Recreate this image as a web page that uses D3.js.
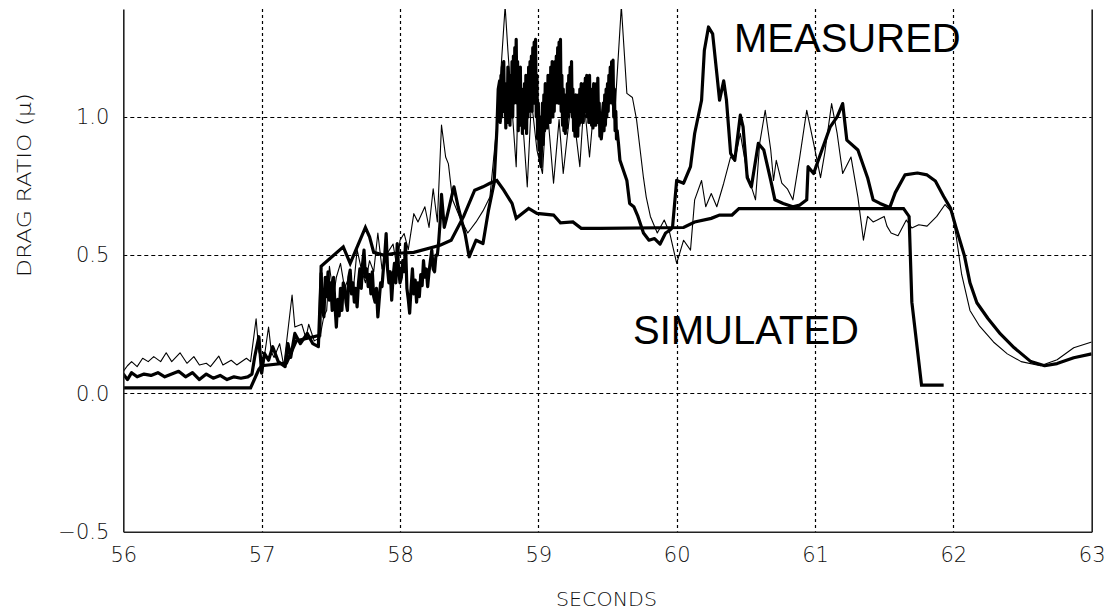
<!DOCTYPE html>
<html>
<head>
<meta charset="utf-8">
<script src="https://cdn.jsdelivr.net/npm/d3@7"></script>
<style>
  html, body { margin: 0; padding: 0; background: #fff; }
  svg { display: block; }
  .tick text { font-family: "DejaVu Sans", sans-serif; font-weight: 200; font-size: 21px; fill: #111; }
</style>
</head>
<body>
<svg id="chart" width="1110" height="613"></svg>
<script>
// ---- data (seconds, drag ratio) ----
const xTicks = [56, 57, 58, 59, 60, 61, 62, 63];
const yTicks = [-0.5, 0.0, 0.5, 1.0];
const xGrid = [57, 58, 59, 60, 61, 62];
const yGrid = [0.0, 0.5, 1.0];
const xLabel = "SECONDS";
const yLabel = "DRAG RATIO  (\u03BC)";
const labelMeasured = "MEASURED";
const labelSimulated = "SIMULATED";

const simulated = [
  [56.0,0.02],[56.92,0.02],[56.98,0.087],[57.0,0.10],[57.18,0.11],[57.25,0.19],[57.42,0.21],
  [57.43,0.46],[57.59,0.53],[57.64,0.47],[57.75,0.60],[57.78,0.566],[57.81,0.51],[57.88,0.50],
  [57.95,0.506],[58.1,0.51],[58.29,0.536],[58.37,0.554],[58.46,0.64],[58.54,0.735],[58.6,0.747],
  [58.65,0.76],[58.7,0.77],[58.75,0.735],[58.81,0.687],[58.84,0.633],[58.93,0.669],[58.99,0.651],
  [59.11,0.645],[59.16,0.617],[59.25,0.62],[59.31,0.597],[59.45,0.597],[60.05,0.60],[60.13,0.62],
  [60.25,0.633],[60.31,0.645],[60.4,0.645],[60.45,0.668],[61.64,0.668],[61.68,0.64],[61.7,0.33],
  [61.77,0.03],[61.93,0.03]
];

const measuredThick = [
  [56.0,0.07],[56.03,0.05],[56.06,0.075],[56.1,0.06],[56.15,0.07],[56.2,0.065],[56.25,0.075],
  [56.3,0.06],[56.35,0.07],[56.4,0.08],[56.45,0.06],[56.5,0.075],[56.55,0.05],[56.6,0.07],
  [56.65,0.055],[56.7,0.065],[56.75,0.05],[56.8,0.06],[56.85,0.055],[56.9,0.06],[56.93,0.07],
  [56.95,0.133],[56.98,0.205],[57.0,0.073],[57.02,0.145],[57.05,0.12],[57.08,0.169],[57.12,0.115],
  [57.17,0.097],[57.19,0.18],[57.21,0.13],[57.24,0.217],[57.28,0.18],[57.33,0.217],[57.37,0.18],
  [57.41,0.169],
  [57.43,0.434],[57.44,0.30],[57.45,0.277],[57.46,0.42],[57.47,0.35],[57.48,0.44],[57.49,0.337],
  [57.50,0.40],[57.51,0.30],[57.52,0.42],[57.53,0.32],[57.54,0.24],[57.55,0.34],[57.56,0.28],
  [57.57,0.38],[57.58,0.30],[57.59,0.40],[57.60,0.386],[57.61,0.33],[57.62,0.30],[57.63,0.42],
  [57.64,0.446],[57.65,0.36],[57.66,0.40],[57.67,0.33],[57.68,0.38],[57.69,0.313],[57.70,0.40],
  [57.71,0.45],[57.72,0.38],[57.73,0.47],[57.74,0.518],[57.75,0.42],[57.76,0.45],[57.77,0.386],
  [57.78,0.43],[57.79,0.36],[57.80,0.44],[57.81,0.35],[57.82,0.33],[57.83,0.38],[57.84,0.277],
  [57.85,0.34],[57.86,0.40],[57.87,0.386],[57.88,0.45],[57.89,0.50],[57.90,0.578],[57.91,0.45],
  [57.92,0.40],[57.93,0.44],[57.94,0.337],[57.95,0.42],[57.96,0.47],[57.97,0.40],[57.98,0.542],
  [57.99,0.45],[58.00,0.40],[58.01,0.42],[58.02,0.48],[58.03,0.44],[58.04,0.542],[58.05,0.38],
  [58.06,0.34],[58.07,0.29],[58.08,0.38],[58.09,0.45],[58.10,0.36],[58.11,0.41],[58.12,0.33],
  [58.13,0.40],[58.14,0.35],[58.15,0.43],[58.16,0.39],[58.17,0.48],[58.18,0.42],[58.19,0.45],
  [58.20,0.386],[58.21,0.44],[58.22,0.48],[58.23,0.518],[58.24,0.45],[58.25,0.44],[58.26,0.50],
  [58.27,0.5],[58.28,0.55],[58.29,0.62],[58.30,0.72],
  [58.32,0.60],[58.34,0.64],[58.39,0.747],[58.42,0.675],
  [58.47,0.578],[58.5,0.494],[58.55,0.554],[58.6,0.542],[58.64,0.663],[58.68,0.76],
  [58.70,0.95],[58.71,1.10],[58.72,1.13],[58.725,0.98],[58.73,1.15],[58.735,1.0],[58.74,1.18],
  [58.75,1.20],[58.755,1.02],[58.76,1.12],[58.765,0.96],[58.77,1.10],[58.775,0.98],[58.78,1.18],
  [58.785,1.00],[58.79,1.12],[58.795,0.97],[58.80,1.15],[58.805,1.02],[58.81,1.20],[58.815,1.0],
  [58.82,1.22],[58.825,1.05],[58.83,1.25],[58.835,1.08],[58.84,1.28],[58.845,1.05],[58.85,1.20],
  [58.855,0.95],[58.86,1.15],[58.865,1.0],[58.87,1.18],[58.875,0.97],[58.88,1.10],[58.885,0.94],
  [58.89,1.08],[58.895,0.96],[58.90,1.12],[58.905,0.98],[58.91,1.15],[58.915,0.94],[58.92,1.10],
  [58.925,1.0],[58.93,1.18],[58.935,1.02],[58.94,1.20],[58.945,1.05],[58.95,1.22],[58.955,1.02],
  [58.96,1.25],[58.965,1.05],[58.97,1.27],[58.975,1.10],[58.98,1.28],[58.985,1.0],[58.99,1.15],
  [58.995,0.92],[59.00,1.05],[59.005,0.88],[59.01,1.0],[59.015,0.84],[59.02,0.82],[59.025,0.95],
  [59.03,1.05],[59.035,0.90],[59.04,1.08],[59.045,0.95],[59.05,1.12],[59.055,0.97],[59.06,1.10],
  [59.065,0.96],[59.07,1.15],[59.075,1.0],[59.08,1.12],[59.085,0.98],[59.09,1.18],[59.095,1.02],
  [59.10,1.20],[59.105,1.0],[59.11,1.15],[59.115,1.02],[59.12,1.20],[59.125,1.05],[59.13,1.22],
  [59.135,1.08],[59.14,1.25],[59.145,1.05],[59.15,1.27],[59.155,1.10],[59.16,1.28],[59.165,1.02],
  [59.17,1.15],[59.175,0.97],[59.18,1.10],[59.185,0.95],[59.19,1.08],[59.195,0.94],[59.20,1.05],
  [59.205,0.96],[59.21,1.12],[59.215,1.0],[59.22,1.15],[59.225,1.02],[59.23,1.18],[59.235,1.05],
  [59.24,1.20],[59.245,1.0],[59.25,1.10],[59.255,0.95],[59.26,1.05],[59.265,0.93],[59.27,1.08],
  [59.275,0.94],[59.28,1.02],[59.285,0.93],[59.29,1.08],[59.295,0.97],[59.30,1.10],[59.305,0.98],
  [59.31,1.12],[59.315,1.0],[59.32,1.10],[59.325,0.98],[59.33,1.12],[59.335,1.02],[59.34,1.14],
  [59.345,1.03],[59.35,1.15],[59.355,1.0],[59.36,1.12],[59.365,0.98],[59.37,1.15],[59.375,1.0],
  [59.38,1.10],[59.385,0.97],[59.39,1.08],[59.395,0.96],[59.40,1.12],[59.405,0.98],[59.41,1.10],
  [59.415,0.97],[59.42,1.12],[59.425,1.0],[59.43,1.14],[59.435,0.98],[59.44,1.05],[59.445,0.93],
  [59.45,1.0],[59.455,0.92],[59.46,0.95],[59.465,1.02],[59.47,1.05],[59.475,0.95],[59.48,1.08],
  [59.485,0.97],[59.49,1.10],[59.495,1.0],[59.50,1.12],[59.505,1.02],[59.51,1.15],[59.515,1.05],
  [59.52,1.18],[59.525,1.08],[59.53,1.20],[59.535,1.05],[59.54,1.205],[59.545,1.0],[59.55,1.10],
  [59.555,0.95],[59.56,1.02],[59.565,0.92],[59.57,0.95],[59.58,0.90],[59.59,0.843],
  [59.64,0.77],[59.66,0.687],[59.69,0.675],[59.72,0.64],[59.76,0.58],
  [59.8,0.554],[59.84,0.56],[59.88,0.54],[59.92,0.58],[59.95,0.59],[59.97,0.60],[60.0,0.77],
  [60.05,0.76],[60.1,0.82],[60.13,0.94],[60.18,1.06],[60.2,1.24],[60.23,1.325],[60.26,1.30],
  [60.29,1.157],[60.31,1.06],[60.34,1.13],[60.36,1.06],[60.39,0.868],[60.42,0.843],[60.46,1.006],
  [60.48,0.964],[60.51,0.78],[60.54,0.747],[60.59,0.904],[60.63,0.88],[60.68,0.77],[60.71,0.70],
  [60.77,0.687],[60.84,0.675],[60.89,0.681],[60.94,0.70],[60.95,0.82],[60.99,0.795],[61.05,0.88],
  [61.11,0.964],[61.16,1.0],[61.2,1.048],[61.23,0.916],[61.31,0.88],[61.38,0.78],[61.42,0.70],
  [61.47,0.687],[61.54,0.672],[61.58,0.726],[61.65,0.79],[61.74,0.797],[61.81,0.79],[61.87,0.768],
  [61.93,0.712],[61.98,0.669],[62.02,0.598],[62.08,0.498],[62.12,0.40],[62.17,0.328],[62.25,0.271],
  [62.34,0.215],[62.44,0.165],[62.56,0.115],[62.66,0.10],[62.75,0.108],[62.87,0.129],[63.0,0.143]
];

const measuredThin = [
  [56.0,0.08],[56.03,0.10],[56.06,0.115],[56.10,0.097],[56.14,0.127],[56.18,0.115],[56.22,0.133],
  [56.27,0.115],[56.31,0.147],[56.35,0.115],[56.41,0.147],[56.46,0.109],[56.51,0.133],[56.55,0.103],
  [56.60,0.109],[56.63,0.097],[56.69,0.135],[56.72,0.103],[56.78,0.12],[56.82,0.103],[56.89,0.127],
  [56.92,0.115],[56.96,0.27],[56.98,0.15],[57.01,0.10],[57.05,0.24],[57.07,0.15],[57.09,0.13],
  [57.13,0.18],[57.16,0.10],[57.22,0.356],[57.24,0.24],[57.29,0.25],[57.32,0.2],[57.34,0.25],
  [57.38,0.19],[57.42,0.2],[57.45,0.28],[57.47,0.3],[57.49,0.46],[57.52,0.35],[57.54,0.42],
  [57.57,0.47],[57.6,0.38],[57.63,0.42],[57.66,0.36],[57.69,0.52],[57.72,0.45],[57.75,0.40],
  [57.78,0.48],[57.81,0.44],[57.84,0.58],[57.87,0.45],[57.90,0.50],[57.95,0.54],[57.98,0.45],
  [58.0,0.554],[58.03,0.578],[58.06,0.52],[58.1,0.65],[58.13,0.62],[58.18,0.675],[58.21,0.6],
  [58.24,0.74],[58.27,0.62],[58.3,0.97],[58.33,0.855],[58.35,0.83],[58.38,0.7],[58.43,0.64],
  [58.49,0.58],[58.55,0.62],[58.6,0.66],[58.65,0.71],[58.71,1.02],[58.76,1.40],[58.78,1.24],
  [58.84,0.82],[58.86,1.18],[58.92,0.747],[58.95,1.06],[58.99,0.88],[59.03,0.795],[59.06,1.06],
  [59.11,0.76],[59.15,0.99],[59.18,0.795],[59.24,1.07],[59.30,0.82],[59.33,1.06],[59.37,0.855],
  [59.41,1.085],[59.46,0.94],[59.51,1.13],[59.55,0.99],[59.6,1.40],[59.64,1.085],[59.68,1.07],
  [59.71,0.99],[59.76,0.78],[59.78,0.71],[59.81,0.64],[59.86,0.58],[59.91,0.627],[59.95,0.58],
  [60.0,0.47],[60.05,0.554],[60.1,0.518],[60.13,0.70],[60.18,0.77],[60.21,0.675],[60.25,0.723],
  [60.29,0.675],[60.34,0.76],[60.39,0.855],[60.42,0.84],[60.46,0.94],[60.51,0.795],[60.57,0.70],
  [60.6,0.904],[60.64,1.024],[60.68,0.88],[60.70,0.77],[60.72,0.843],[60.76,0.76],[60.80,0.74],
  [60.84,0.70],[60.89,0.855],[60.94,1.024],[60.99,0.904],[61.04,0.78],[61.07,0.868],[61.12,1.048],
  [61.16,0.94],[61.2,0.795],[61.26,0.855],[61.31,0.71],[61.35,0.554],[61.38,0.64],[61.42,0.62],
  [61.45,0.627],[61.5,0.64],[61.52,0.605],[61.55,0.58],[61.6,0.57],[61.66,0.627],[61.7,0.598],
  [61.75,0.61],[61.81,0.605],[61.88,0.64],[61.94,0.683],[61.99,0.655],[62.02,0.57],[62.06,0.43],
  [62.12,0.30],[62.19,0.243],[62.29,0.186],[62.39,0.143],[62.49,0.115],[62.63,0.10],[62.75,0.122],
  [62.87,0.165],[63.0,0.186]
];

// ---- layout ----
const svg = d3.select("#chart");
const L = 123.3, R = 1091.7, T = 9, B = 531.7;
const x = d3.scaleLinear().domain([56, 63]).range([L, R]);
const y = d3.scaleLinear().domain([-0.5, 1.39]).range([B, T]);

svg.append("defs").append("clipPath").attr("id", "plotclip")
  .append("rect").attr("x", L).attr("y", T).attr("width", R - L).attr("height", B - T);

// grid
const grid = svg.append("g");
grid.selectAll("line.v").data(xGrid).join("line")
  .attr("x1", d => Math.round(x(d)) + 0.5).attr("x2", d => Math.round(x(d)) + 0.5)
  .attr("y1", T).attr("y2", B)
  .attr("stroke", "#000").attr("stroke-width", 1.2).attr("stroke-dasharray", "3,3");
grid.selectAll("line.h").data(yGrid).join("line")
  .attr("x1", L).attr("x2", R)
  .attr("y1", d => Math.round(y(d)) + 0.5).attr("y2", d => Math.round(y(d)) + 0.5)
  .attr("stroke", "#000").attr("stroke-width", 1.2).attr("stroke-dasharray", "4,3");

// lines
const line = d3.line().x(d => x(d[0])).y(d => y(d[1]));
const plot = svg.append("g").attr("clip-path", "url(#plotclip)");
plot.append("path").datum(measuredThin).attr("d", line)
  .attr("fill", "none").attr("stroke", "#000").attr("stroke-width", 1.1).attr("stroke-linejoin", "round");
plot.append("path").datum(measuredThick).attr("d", line)
  .attr("fill", "none").attr("stroke", "#000").attr("stroke-width", 3.2).attr("stroke-linejoin", "round");
plot.append("path").datum(simulated).attr("d", line)
  .attr("fill", "none").attr("stroke", "#000").attr("stroke-width", 3.2).attr("stroke-linejoin", "miter");

// axes
const xAxis = d3.axisBottom(x).tickValues(xTicks).tickSize(0).tickPadding(15)
  .tickFormat(d3.format("d"));
const gx = svg.append("g").attr("transform", `translate(0,${B})`).call(xAxis);
gx.select(".domain").attr("stroke", "#222").attr("stroke-width", 1.6);

const yAxis = d3.axisLeft(y).tickValues(yTicks).tickSize(0).tickPadding(14)
  .tickFormat(d3.format(".1f"));
const gy = svg.append("g").attr("transform", `translate(${L},0)`).call(yAxis);
gy.select(".domain").attr("stroke", "#222").attr("stroke-width", 1.6);

const gr = svg.append("g").attr("transform", `translate(${R},0)`)
  .call(d3.axisRight(y).tickValues([]).tickSizeOuter(0));
gr.select(".domain").attr("stroke", "#222").attr("stroke-width", 1.6);

// axis titles
svg.append("text").attr("x", 606.5).attr("y", 606)
  .attr("text-anchor", "middle")
  .attr("textLength", 101).attr("lengthAdjust", "spacingAndGlyphs")
  .style("font-family", "DejaVu Sans, sans-serif").style("font-weight", 200)
  .style("font-size", "20px").style("fill", "#111")
  .text(xLabel);

svg.append("text")
  .attr("transform", "translate(31,185) rotate(-90)")
  .attr("text-anchor", "middle")
  .attr("textLength", 184).attr("lengthAdjust", "spacingAndGlyphs")
  .style("font-family", "DejaVu Sans, sans-serif").style("font-weight", 200)
  .style("font-size", "20px").style("fill", "#111")
  .text(yLabel);

// annotations
svg.append("text").attr("x", 734).attr("y", 52)
  .style("font-family", "Liberation Sans, Arial, sans-serif").style("font-size", "40px").style("fill", "#000")
  .text(labelMeasured);
svg.append("text").attr("x", 633).attr("y", 344)
  .style("font-family", "Liberation Sans, Arial, sans-serif").style("font-size", "40px").style("fill", "#000")
  .text(labelSimulated);
</script>
</body>
</html>
